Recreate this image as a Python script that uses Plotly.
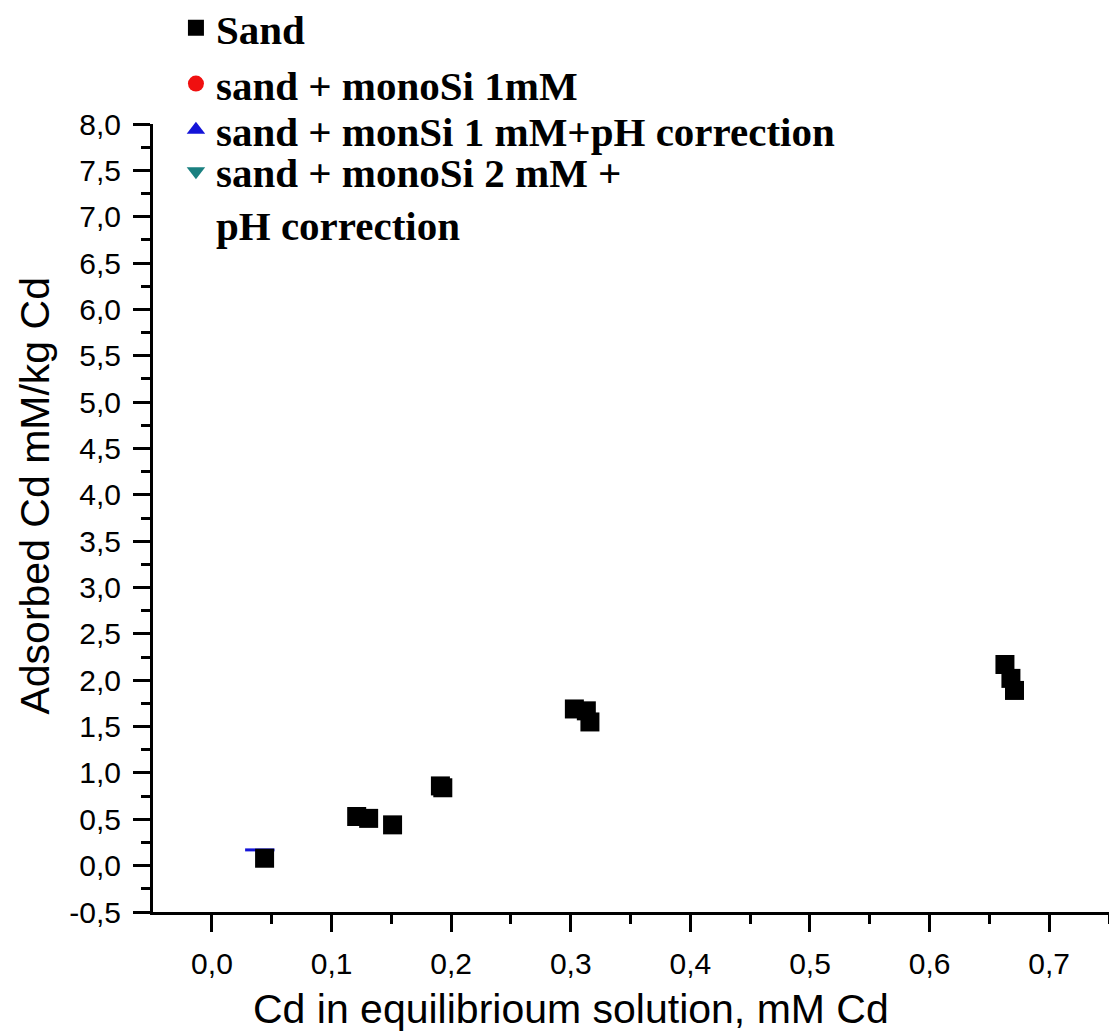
import plotly.graph_objects as go

# Data
sand_x = [0.044, 0.121, 0.131, 0.151, 0.191, 0.193, 0.303, 0.313, 0.316, 0.663, 0.668, 0.671]
sand_y = [0.08, 0.53, 0.51, 0.44, 0.86, 0.84, 1.69, 1.67, 1.55, 2.17, 2.02, 1.89]

# series with no visible points in the picture (legend only)
mono1_x = [None]
mono1_y = [None]

mono1ph_x = [0.040]
mono1ph_y = [0.17]

mono2ph_x = [None]
mono2ph_y = [None]

series_names = [
    "Sand",
    "sand + monoSi 1mM",
    "sand + monSi 1 mM+pH correction",
    "sand + monoSi 2 mM +<br>pH correction",
]

x_ticks = [0.0, 0.1, 0.2, 0.3, 0.4, 0.5, 0.6, 0.7]
x_ticktext = ["0,0", "0,1", "0,2", "0,3", "0,4", "0,5", "0,6", "0,7"]
y_ticks = [-0.5, 0.0, 0.5, 1.0, 1.5, 2.0, 2.5, 3.0, 3.5, 4.0, 4.5, 5.0, 5.5, 6.0, 6.5, 7.0, 7.5, 8.0]
y_ticktext = ["-0,5", "0,0", "0,5", "1,0", "1,5", "2,0", "2,5", "3,0", "3,5", "4,0",
              "4,5", "5,0", "5,5", "6,0", "6,5", "7,0", "7,5", "8,0"]

x_title = "Cd in equilibrioum solution, mM Cd"
y_title = "Adsorbed Cd mM/kg Cd"

fig = go.Figure()

# blue mark (drawn under the squares, legend entry comes from the trace below)
fig.add_trace(go.Scatter(
    x=mono1ph_x, y=mono1ph_y, mode="markers", showlegend=False,
    legendgroup="g3",
    marker=dict(symbol="line-ew", size=21, color="#1414d8",
                line=dict(color="#1414d8", width=3)),
))

fig.add_trace(go.Scatter(
    x=sand_x, y=sand_y, mode="markers", name="<b>" + series_names[0] + "</b>",
    legend="legend",
    marker=dict(symbol="square", size=19, color="black", line=dict(width=0)),
))
fig.add_trace(go.Scatter(
    x=mono1_x, y=mono1_y, mode="markers", name="<b>" + series_names[1] + "</b>",
    legend="legend2",
    marker=dict(symbol="circle", size=16, color="#f01010", line=dict(width=0)),
))
fig.add_trace(go.Scatter(
    x=[None], y=[None], mode="markers", name="<b>" + series_names[2] + "</b>",
    legendgroup="g3", legend="legend3",
    marker=dict(symbol="triangle-up", size=16, color="#1414d8", line=dict(width=0)),
))
fig.add_trace(go.Scatter(
    x=mono2ph_x, y=mono2ph_y, mode="markers", name="<b>" + series_names[3] + "</b>",
    legend="legend4",
    marker=dict(symbol="triangle-down", size=16, color="#1a8080", line=dict(width=0)),
))

axis_font = dict(family="Liberation Sans, Arial, sans-serif", size=30, color="black")
title_font = dict(family="Liberation Sans, Arial, sans-serif", size=41, color="black")
legend_font = dict(family="Liberation Serif, Times New Roman, serif", size=41, color="black")


def leg(y, valign="middle", yanchor="middle"):
    return dict(x=0.024, y=y, xanchor="left", yanchor=yanchor, valign=valign,
                bgcolor="rgba(0,0,0,0)", font=legend_font, itemsizing="trace",
                tracegroupgap=0, borderwidth=0)


fig.update_layout(
    width=1109, height=1033,
    margin=dict(l=153, r=0, t=124, b=121, autoexpand=False),
    paper_bgcolor="white", plot_bgcolor="white",
    showlegend=True,
    legend=leg(1.1218),
    legend2=leg(1.0508),
    legend3=leg(0.9924),
    legend4=leg(0.9060, valign="top"),
    xaxis=dict(
        range=[-0.0493, 0.750],
        tickvals=x_ticks, ticktext=x_ticktext,
        ticks="outside", ticklen=17, tickwidth=3, tickcolor="black",
        minor=dict(dtick=0.05, tick0=0, ticks="outside", ticklen=9, tickwidth=3, tickcolor="black"),
        showline=True, linecolor="black", linewidth=3,
        showgrid=False, zeroline=False,
        tickfont=axis_font,
        ticklabelstandoff=6,
    ),
    yaxis=dict(
        range=[-0.5, 8.0],
        tickvals=y_ticks, ticktext=y_ticktext,
        ticks="outside", ticklen=17, tickwidth=3, tickcolor="black",
        minor=dict(dtick=0.25, tick0=0, ticks="outside", ticklen=9, tickwidth=3, tickcolor="black"),
        showline=True, linecolor="black", linewidth=3,
        showgrid=False, zeroline=False,
        tickfont=axis_font,
        ticklabelstandoff=6,
    ),
    annotations=[
        dict(text=x_title, xref="paper", yref="paper", x=0.437, y=-0.123,
             xanchor="center", yanchor="middle", showarrow=False, font=title_font),
        dict(text=y_title, xref="paper", yref="paper", x=-0.123, y=0.529,
             xanchor="center", yanchor="middle", showarrow=False, textangle=-90,
             font=title_font),
    ],
)

fig.write_html("out.html")
